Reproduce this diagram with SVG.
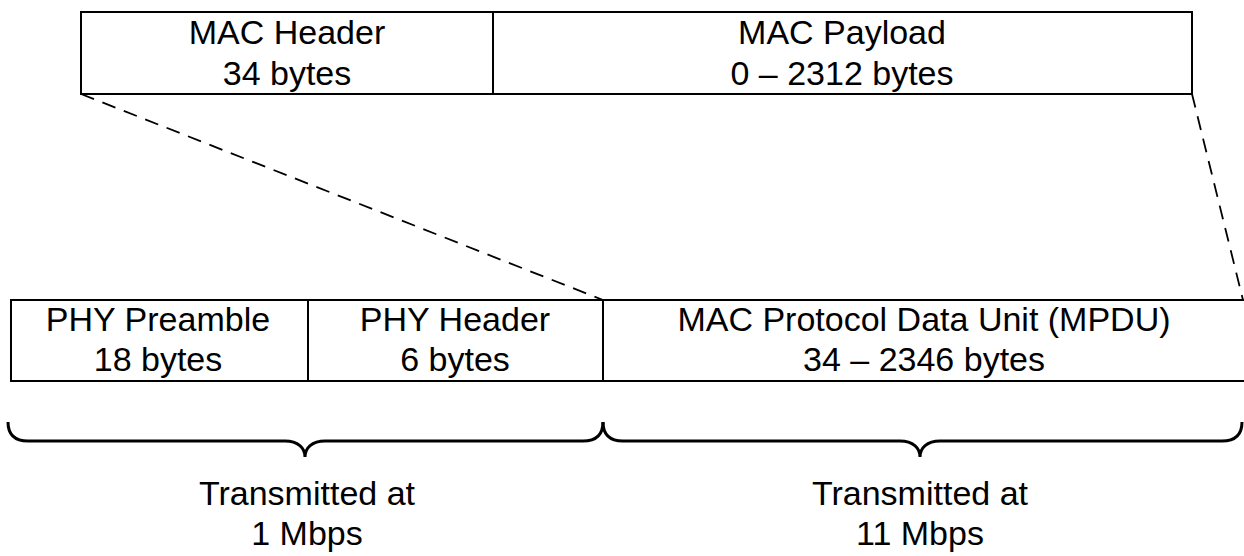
<svg xmlns="http://www.w3.org/2000/svg" width="1244" height="556" viewBox="0 0 1244 556">
<style>
.box{fill:#fff;stroke:#000;stroke-width:2}
.t{font-family:"Liberation Sans",Arial,sans-serif;font-size:34px;fill:#000;text-anchor:middle}
.dash{fill:none;stroke:#000;stroke-width:1.8;stroke-dasharray:14 9}
.brace{fill:none;stroke:#000;stroke-width:3}
</style>
<rect width="1244" height="556" fill="#fff"/>
<g id="connectors">
<line class="dash" x1="81" y1="94" x2="603" y2="300"/>
<line class="dash" x1="1192" y1="94" x2="1243" y2="300"/>
</g>
<g id="mac-header">
<rect class="box" x="81" y="12" width="412" height="82"/>
<text class="t" x="287" y="44">MAC Header</text>
<text class="t" x="287" y="85">34 bytes</text>
</g>
<g id="mac-payload">
<rect class="box" x="493" y="12" width="699" height="82"/>
<text class="t" x="842" y="44">MAC Payload</text>
<text class="t" x="842" y="85">0 – 2312 bytes</text>
</g>
<g id="phy-preamble">
<rect class="box" x="11" y="300" width="297" height="81"/>
<text class="t" x="158" y="331">PHY Preamble</text>
<text class="t" x="158" y="371">18 bytes</text>
</g>
<g id="phy-header">
<rect class="box" x="308" y="300" width="295" height="81"/>
<text class="t" x="455" y="331">PHY Header</text>
<text class="t" x="455" y="371">6 bytes</text>
</g>
<g id="mpdu">
<rect class="box" x="603" y="300" width="660" height="81"/>
<text class="t" x="924" y="331">MAC Protocol Data Unit (MPDU)</text>
<text class="t" x="924" y="371">34 – 2346 bytes</text>
</g>
<g id="brace-1mbps">
<path class="brace" d="M8 422 C8 434 14 441 28 441 L285 441 C298 441 305 448 305 457 C305 448 312 441 325 441 L583 441 C597 441 603 434 603 422"/>
<text class="t" x="307" y="505">Transmitted at</text>
<text class="t" x="307" y="545">1 Mbps</text>
</g>
<g id="brace-11mbps">
<path class="brace" d="M603 422 C603 434 609 441 623 441 L900 441 C913 441 920 448 920 457 C920 448 927 441 940 441 L1222 441 C1236 441 1242 434 1242 422"/>
<text class="t" x="920" y="505">Transmitted at</text>
<text class="t" x="920" y="545">11 Mbps</text>
</g>
</svg>
